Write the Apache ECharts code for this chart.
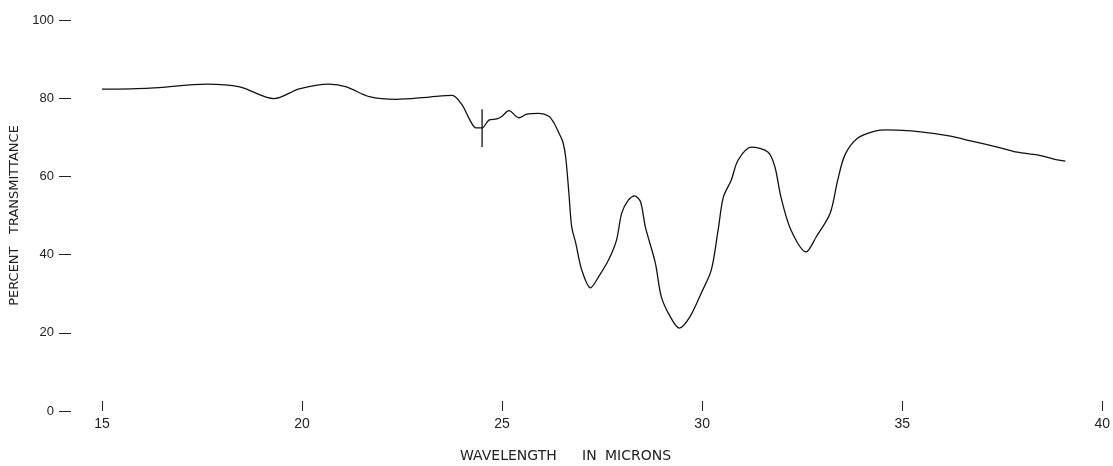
<!DOCTYPE html>
<html>
<head>
<meta charset="utf-8">
<script src="https://cdn.jsdelivr.net/npm/echarts@6/dist/echarts.min.js"></script>
<style>
html,body{margin:0;padding:0;background:#fff;}
#c{width:1113px;height:466px;}
</style>
</head>
<body>
<div id="c"></div>
<script>
// Wavelength (microns)
const wavelength = [15.00,16.20,17.62,18.44,19.30,19.93,20.68,21.11,21.68,22.35,23.18,23.75,24.00,24.17,24.35,24.50,24.67,24.87,25.00,25.17,25.42,25.62,25.92,26.17,26.30,26.42,26.52,26.59,26.67,26.74,26.84,26.99,27.21,27.41,27.66,27.86,27.99,28.16,28.31,28.46,28.58,28.83,28.98,29.21,29.43,29.69,29.98,30.23,30.40,30.53,30.73,30.90,31.23,31.65,31.82,31.97,32.22,32.60,32.85,33.20,33.39,33.57,33.89,34.32,34.64,35.46,36.21,36.71,37.38,37.88,38.38,38.88,39.08];
// Percent transmittance
const transmittance = [82.3,82.6,83.6,82.9,79.9,82.4,83.6,82.9,80.4,79.7,80.3,80.7,78.3,74.9,72.4,72.4,74.4,74.7,75.4,76.8,75.0,75.9,76.1,75.4,73.6,71.1,68.8,64.9,55.7,47.1,43.0,36.1,31.5,34.3,38.6,43.7,50.6,54.0,55.0,53.5,47.1,37.9,29.2,24.0,21.2,24.0,30.2,36.1,46.3,54.7,59.1,64.2,67.5,66.2,62.4,54.7,46.3,40.7,44.5,50.6,59.1,65.5,69.8,71.6,71.9,71.4,70.3,69.1,67.5,66.2,65.5,64.2,63.9];
// Vertical pen marker
const markerX = [24.5, 24.5];
const markerY = [77.2, 67.5];
const xTicks = [15, 20, 25, 30, 35, 40];
const yTicks = [0, 20, 40, 60, 80, 100];

const chart = echarts.init(document.getElementById('c'), null, {renderer: 'canvas'});
const font = 'Liberation Sans';
const titleFont = 'DejaVu Sans';
const titleStyle = {fontSize: 14, fill: '#222', fontFamily: titleFont};
chart.setOption({
  animation: false,
  backgroundColor: '#fff',
  grid: {left: 102, right: 8, top: 20, bottom: 55, containLabel: false},
  xAxis: {
    type: 'value', min: xTicks[0], max: xTicks[xTicks.length-1], interval: 5,
    offset: -10,
    axisLine: {show: false},
    axisTick: {show: true, length: 10, lineStyle: {color: '#222', width: 1}},
    axisLabel: {margin: 16, fontSize: 14, color: '#222', fontFamily: font},
    splitLine: {show: false}
  },
  yAxis: {
    type: 'value', min: yTicks[0], max: yTicks[yTicks.length-1], interval: 20,
    offset: 31,
    axisLine: {show: false},
    axisTick: {show: true, length: 12, lineStyle: {color: '#222', width: 1}},
    axisLabel: {margin: 17, fontSize: 13, color: '#222', fontFamily: font},
    splitLine: {show: false},
    name: 'PERCENT   TRANSMITTANCE',
    nameLocation: 'middle',
    nameGap: 42,
    nameRotate: 90,
    nameTextStyle: {fontSize: 13, color: '#222', fontFamily: titleFont}
  },
  graphic: [
    {type: 'text', left: 460, top: 449, style: Object.assign({text: 'WAVELENGTH'}, titleStyle)},
    {type: 'text', left: 582, top: 449, style: Object.assign({text: 'IN'}, titleStyle)},
    {type: 'text', left: 605, top: 449, style: Object.assign({text: 'MICRONS'}, titleStyle)}
  ],
  series: [{
    type: 'line',
    data: wavelength.map((x, i) => [x, transmittance[i]]),
    smooth: 0.3,
    showSymbol: false,
    lineStyle: {color: '#111', width: 1.3}
  }, {
    type: 'line',
    data: markerX.map((x, i) => [x, markerY[i]]),
    showSymbol: false,
    lineStyle: {color: '#111', width: 1.3}
  }]
});
</script>
</body>
</html>
